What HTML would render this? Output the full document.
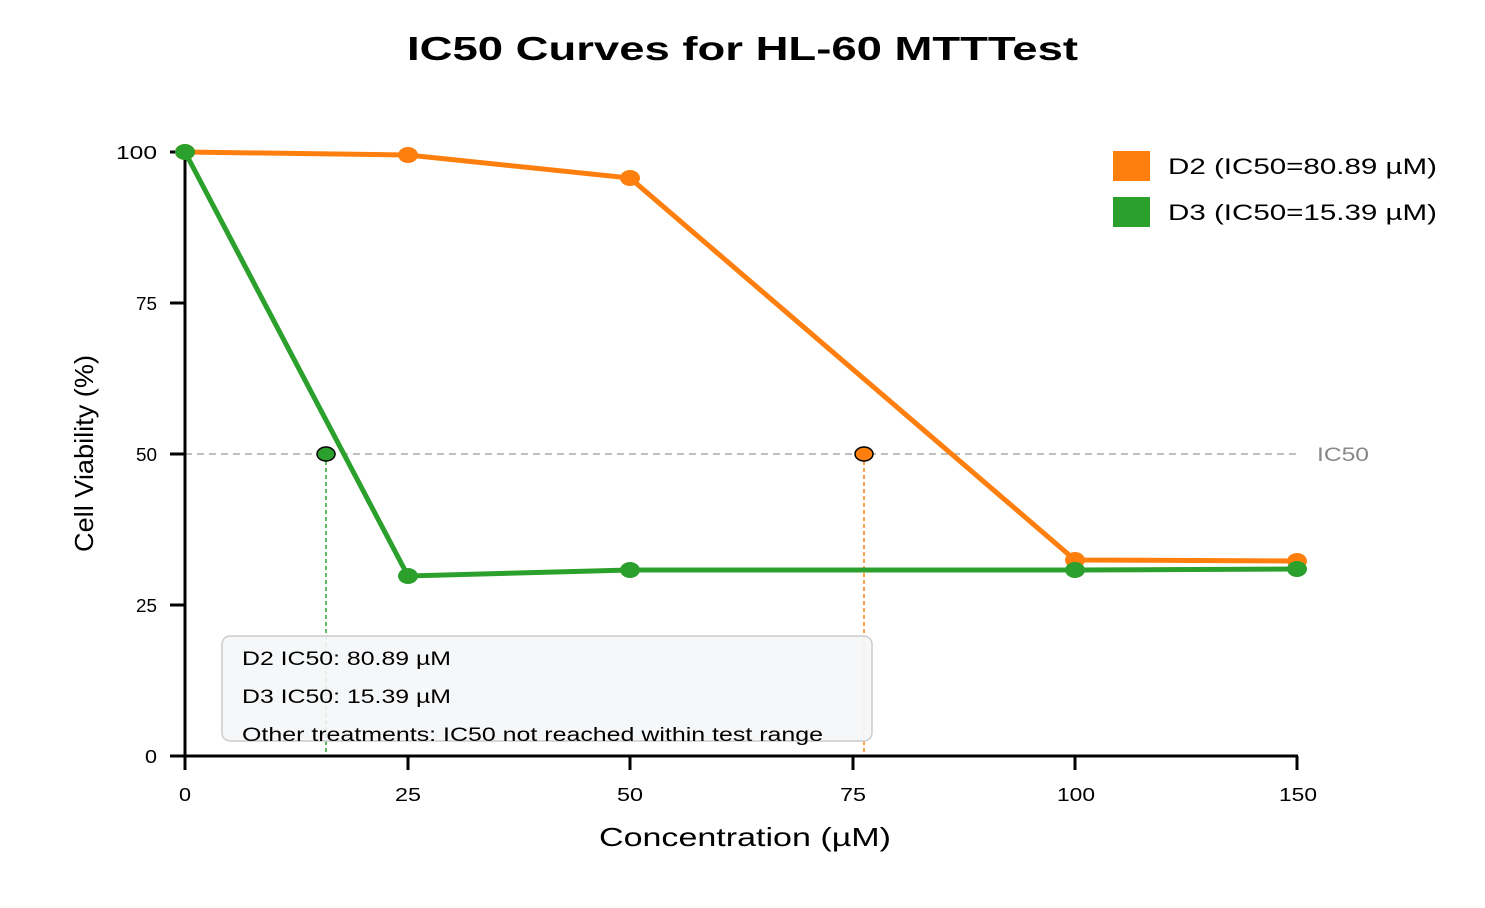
<!DOCTYPE html>
<html><head><meta charset="utf-8"><style>
body{margin:0;background:#fff;}
svg{display:block;font-family:"Liberation Sans",Arial,sans-serif;}
</style></head><body>
<svg width="1485" height="908" viewBox="0 0 1485 908">
<text x="407" y="60" font-size="33" font-weight="bold" textLength="671" lengthAdjust="spacingAndGlyphs">IC50 Curves for HL-60 MTTTest</text>
<line x1="185" y1="454" x2="1297" y2="454" stroke="#aaa" stroke-width="1.5" stroke-dasharray="7,5"/>
<text x="1317" y="461" font-size="19" fill="#888" textLength="52" lengthAdjust="spacingAndGlyphs">IC50</text>
<line x1="326" y1="454" x2="326" y2="756" stroke="#2ca02c" stroke-width="1.5" stroke-dasharray="4,3"/>
<line x1="864" y1="454" x2="864" y2="756" stroke="#ff7f0e" stroke-width="1.5" stroke-dasharray="4,3"/>
<line x1="185" y1="150" x2="185" y2="757" stroke="#000" stroke-width="3"/>
<line x1="184" y1="756" x2="1298" y2="756" stroke="#000" stroke-width="3"/>
<g stroke="#000" stroke-width="3">
<line x1="170" y1="152" x2="185" y2="152"/><line x1="170" y1="303" x2="185" y2="303"/>
<line x1="170" y1="454" x2="185" y2="454"/><line x1="170" y1="605" x2="185" y2="605"/>
<line x1="170" y1="756" x2="185" y2="756"/>
<line x1="185" y1="756" x2="185" y2="770"/><line x1="408" y1="756" x2="408" y2="770"/>
<line x1="630" y1="756" x2="630" y2="770"/><line x1="853" y1="756" x2="853" y2="770"/>
<line x1="1075" y1="756" x2="1075" y2="770"/><line x1="1297" y1="756" x2="1297" y2="770"/>
</g>
<g font-size="18">
<text x="116" y="159" textLength="41" lengthAdjust="spacingAndGlyphs">100</text>
<text x="136" y="310" textLength="21" lengthAdjust="spacingAndGlyphs">75</text>
<text x="136" y="461" textLength="21" lengthAdjust="spacingAndGlyphs">50</text>
<text x="136" y="612" textLength="21" lengthAdjust="spacingAndGlyphs">25</text>
<text x="145" y="763" textLength="12" lengthAdjust="spacingAndGlyphs">0</text>
</g>
<g font-size="18">
<text x="179" y="801" textLength="12" lengthAdjust="spacingAndGlyphs">0</text>
<text x="395" y="801" textLength="26" lengthAdjust="spacingAndGlyphs">25</text>
<text x="617" y="801" textLength="26" lengthAdjust="spacingAndGlyphs">50</text>
<text x="840" y="801" textLength="26" lengthAdjust="spacingAndGlyphs">75</text>
<text x="1057" y="801" textLength="38" lengthAdjust="spacingAndGlyphs">100</text>
<text x="1279" y="801" textLength="38" lengthAdjust="spacingAndGlyphs">150</text>
</g>
<text x="599" y="846" font-size="26" textLength="292" lengthAdjust="spacingAndGlyphs">Concentration (µM)</text>
<text transform="translate(93,552) rotate(-90)" font-size="26" textLength="197" lengthAdjust="spacingAndGlyphs">Cell Viability (%)</text>
<rect x="222" y="636" width="650" height="105" rx="8" fill="#f5f6f8" fill-opacity="0.9" stroke="#ccc" stroke-width="1.5"/>
<g font-size="19">
<text x="242" y="665" textLength="209" lengthAdjust="spacingAndGlyphs">D2 IC50: 80.89 µM</text>
<text x="242" y="703" textLength="209" lengthAdjust="spacingAndGlyphs">D3 IC50: 15.39 µM</text>
<text x="242" y="741" textLength="581" lengthAdjust="spacingAndGlyphs">Other treatments: IC50 not reached within test range</text>
</g>
<polyline points="185,152 408,155 630,178 1075,560 1297,561" fill="none" stroke="#ff7f0e" stroke-width="5"/>
<g fill="#ff7f0e"><ellipse cx="185" cy="152" rx="10" ry="8"/><ellipse cx="408" cy="155" rx="10" ry="8"/><ellipse cx="630" cy="178" rx="10" ry="8"/><ellipse cx="1075" cy="560" rx="10" ry="8"/><ellipse cx="1297" cy="561" rx="10" ry="8"/></g>
<polyline points="185,152 408,576 630,570 1075,570 1297,569" fill="none" stroke="#2ca02c" stroke-width="5"/>
<g fill="#2ca02c"><ellipse cx="185" cy="152" rx="10" ry="8"/><ellipse cx="408" cy="576" rx="10" ry="8"/><ellipse cx="630" cy="570" rx="10" ry="8"/><ellipse cx="1075" cy="570" rx="10" ry="8"/><ellipse cx="1297" cy="569" rx="10" ry="8"/></g>
<ellipse cx="326" cy="454" rx="9" ry="7" fill="#2ca02c" stroke="#000" stroke-width="1.5"/>
<ellipse cx="864" cy="454" rx="9" ry="7" fill="#ff7f0e" stroke="#000" stroke-width="1.5"/>
<rect x="1113" y="151" width="37" height="30" fill="#ff7f0e"/>
<rect x="1113" y="197" width="37" height="30" fill="#2ca02c"/>
<g font-size="22">
<text x="1168" y="174" textLength="269" lengthAdjust="spacingAndGlyphs">D2 (IC50=80.89 µM)</text>
<text x="1168" y="220" textLength="269" lengthAdjust="spacingAndGlyphs">D3 (IC50=15.39 µM)</text>
</g>
</svg>
</body></html>
